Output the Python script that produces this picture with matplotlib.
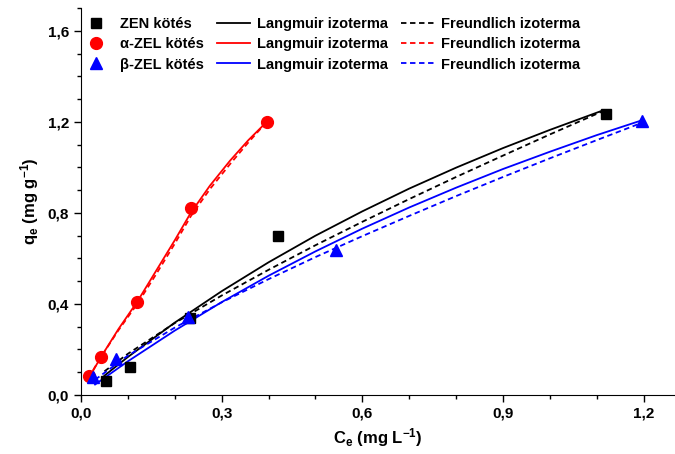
import matplotlib
matplotlib.use('Agg')
from matplotlib import pyplot as plt
from matplotlib.ticker import MultipleLocator, FuncFormatter

# Mért pontok (Ce, qe)
zen_c = [0.053, 0.105, 0.232, 0.42, 1.12]
zen_q = [0.062, 0.125, 0.338, 0.70, 1.235]
alfa_c = [0.016, 0.042, 0.120, 0.235, 0.397]
alfa_q = [0.085, 0.168, 0.407, 0.821, 1.201]
beta_c = [0.025, 0.074, 0.229, 0.543, 1.197]
beta_q = [0.080, 0.158, 0.344, 0.637, 1.205]

# Illesztett görbék, leolvasott pontok
zen_fit_c = [0.05, 0.1, 0.2, 0.3, 0.4, 0.5, 0.6, 0.7, 0.8, 0.9, 1.0, 1.115]
zen_lang_q = [0.085, 0.167, 0.318, 0.456, 0.583, 0.700, 0.807, 0.907, 0.999, 1.085, 1.165, 1.252]
zen_freu_q = [0.104, 0.181, 0.316, 0.437, 0.550, 0.658, 0.761, 0.861, 0.958, 1.052, 1.145, 1.249]

alfa_fit_c = [0.016, 0.042, 0.08, 0.12, 0.16, 0.2, 0.234, 0.275, 0.318, 0.357, 0.396]
alfa_lang_q = [0.072, 0.165, 0.29, 0.41, 0.545, 0.68, 0.80, 0.92, 1.03, 1.12, 1.20]
alfa_freu_q = [0.075, 0.165, 0.285, 0.40, 0.53, 0.665, 0.785, 0.905, 1.015, 1.11, 1.20]

beta_fit_c = [0.03, 0.1, 0.2, 0.3, 0.4, 0.5, 0.6, 0.7, 0.8, 0.9, 1.0, 1.1, 1.196]
beta_lang_q = [0.046, 0.148, 0.283, 0.408, 0.524, 0.631, 0.731, 0.824, 0.911, 0.993, 1.069, 1.142, 1.207]
beta_freu_q = [0.067, 0.173, 0.296, 0.407, 0.509, 0.606, 0.698, 0.787, 0.874, 0.958, 1.040, 1.120, 1.196]

plt.rcParams['font.family'] = ['Liberation Sans', 'DejaVu Sans']
plt.rcParams['font.weight'] = 'bold'
plt.rcParams['mathtext.fontset'] = 'custom'
plt.rcParams['mathtext.rm'] = 'Liberation Sans:bold'
plt.rcParams['mathtext.bf'] = 'Liberation Sans:bold'
plt.rcParams['mathtext.it'] = 'Liberation Sans:bold'

fig = plt.figure(figsize=(6.75, 4.54), dpi=100)
ax = fig.add_axes([0.12, 0.13, 0.88, 0.852])

lw = 1.3
dash = (0, (3, 2))

p1, = ax.plot(zen_c, zen_q, 's', color='black', ms=7, ls='none', zorder=3)
p2, = ax.plot(alfa_c, alfa_q, 'o', color='red', ms=8.5, ls='none', zorder=3)
p3, = ax.plot(beta_c, beta_q, '^', color='blue', ms=9, ls='none', zorder=3)

l1, = ax.plot(zen_fit_c, zen_lang_q, color='black', lw=lw)
l2, = ax.plot(alfa_fit_c, alfa_lang_q, color='red', lw=lw)
l3, = ax.plot(beta_fit_c, beta_lang_q, color='blue', lw=lw)

f1, = ax.plot(zen_fit_c, zen_freu_q, color='black', lw=lw, ls=dash)
f2, = ax.plot(alfa_fit_c, alfa_freu_q, color='red', lw=lw, ls=dash)
f3, = ax.plot(beta_fit_c, beta_freu_q, color='blue', lw=lw, ls=dash)

handles = [p1, p2, p3, l1, l2, l3, f1, f2, f3]
labels = ['ZEN kötés', 'α-ZEL kötés', 'β-ZEL kötés',
          'Langmuir izoterma', 'Langmuir izoterma', 'Langmuir izoterma',
          'Freundlich izoterma', 'Freundlich izoterma', 'Freundlich izoterma']
fig.legend(handles, labels, ncol=3, loc='upper left', bbox_to_anchor=(0.118, 0.962),
           frameon=False, handlelength=2.3, handletextpad=0.45,
           columnspacing=0.9, labelspacing=0.42, borderpad=0, borderaxespad=0,
           prop={'weight': 'bold', 'size': 10.5})

ax.set_xlim(0, 1.267)
ax.set_ylim(0, 1.7)
ax.xaxis.set_major_locator(MultipleLocator(0.3))
ax.xaxis.set_minor_locator(MultipleLocator(0.1))
ax.yaxis.set_major_locator(MultipleLocator(0.4))
ax.yaxis.set_minor_locator(MultipleLocator(0.1))
comma = FuncFormatter(lambda v, pos: f'{v:.1f}'.replace('.', ','))
ax.xaxis.set_major_formatter(comma)
ax.yaxis.set_major_formatter(comma)
ax.tick_params(which='major', direction='out', length=5, width=1, labelsize=11)
ax.tick_params(which='minor', direction='out', length=3, width=1)

for s in ['top', 'right']:
    ax.spines[s].set_visible(False)

ax.set_xlabel(r'C$_{e}$ (mg L$^{-1}$)', fontsize=12, fontweight='bold', labelpad=4)
ax.set_ylabel(r'q$_{e}$ (mg g$^{-1}$)', fontsize=12, fontweight='bold', labelpad=5)

fig.savefig('out.png', dpi=100)
